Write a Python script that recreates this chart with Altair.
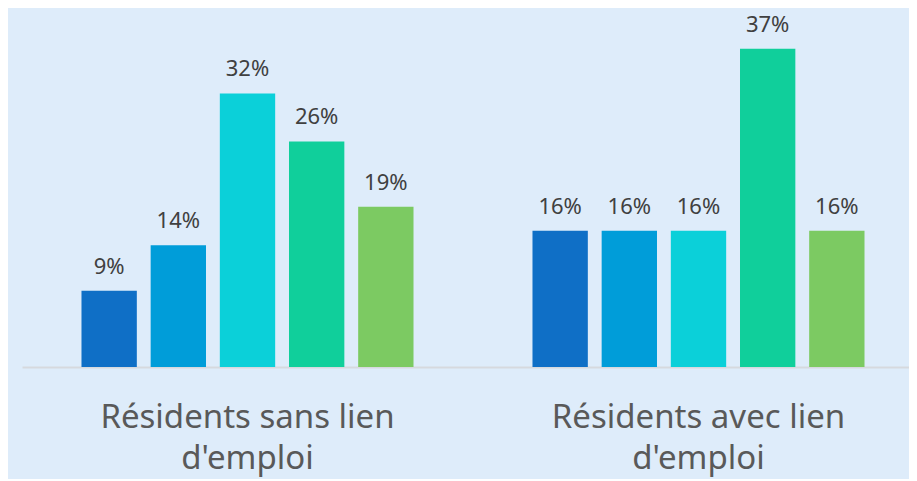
import altair as alt
import pandas as pd

groups = ["Résidents sans lien|d'emploi", "Résidents avec lien|d'emploi"]
series = ["Série 1", "Série 2", "Série 3", "Série 4", "Série 5"]
values_sans = [0.089, 0.142, 0.319, 0.263, 0.187]
values_avec = [0.159, 0.159, 0.159, 0.371, 0.159]
colors = ["#0F6FC6", "#009DD9", "#0BD0D9", "#10CF9B", "#7CCA62"]

rows = []
for g, vals in zip(groups, [values_sans, values_avec]):
    for s, v in zip(series, vals):
        rows.append({"groupe": g, "serie": s, "valeur": v})
df = pd.DataFrame(rows)

x_enc = alt.X(
    "groupe:N",
    sort=groups,
    scale=alt.Scale(paddingInner=0, paddingOuter=0, range=[0, 902]),
    axis=alt.Axis(
        title=None,
        labelAngle=0,
        ticks=False,
        tickSize=0,
        labelPadding=34,
        labelFontSize=33,
        labelFont="Noto Sans, sans-serif",
        labelColor="#595959",
        labelLineHeight=41,
        labelLimit=0,
        labelExpr="split(datum.label, '|')",
        domainColor="#D6D9DE",
        domainWidth=2,
        grid=False,
    ),
)
xoff = alt.XOffset(
    "serie:N",
    sort=series,
    scale=alt.Scale(paddingInner=0.2, paddingOuter=0.86),
)
y_enc = alt.Y(
    "valeur:Q",
    scale=alt.Scale(domain=[0, 0.4], nice=False),
    axis=None,
)

bars = alt.Chart(df).mark_bar().encode(
    x=x_enc,
    xOffset=xoff,
    y=y_enc,
    color=alt.Color("serie:N", sort=series,
                    scale=alt.Scale(domain=series, range=colors), legend=None),
)

labels = alt.Chart(df).mark_text(
    baseline="alphabetic", dy=-17, fontSize=22, color="#404040",
    font="Noto Sans, sans-serif",
).encode(
    x=x_enc,
    xOffset=xoff,
    y=y_enc,
    text=alt.Text("valeur:Q", format=".0%"),
)

chart = (
    alt.layer(bars, labels)
    .properties(
        width=887,
        height=343,
        background="#DEECFA",
        padding={"left": 14, "top": 16, "right": 0, "bottom": 112},
        autosize=alt.AutoSizeParams(type="none"),
    )
    .configure_view(stroke=None)
)

chart.save("out.html", embed_options={"renderer": "svg", "actions": False})
